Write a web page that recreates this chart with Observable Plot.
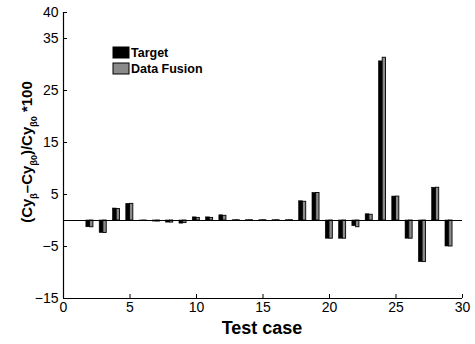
<!DOCTYPE html>
<html>
<head>
<meta charset="utf-8">
<script src="https://cdn.jsdelivr.net/npm/d3@7"></script>
<script src="https://cdn.jsdelivr.net/npm/@observablehq/plot@0.6"></script>
<style>
  html, body { margin: 0; padding: 0; background: #fff; }
  #chart { width: 475px; height: 344px; }
  svg { font-family: "Liberation Sans", Arial, Helvetica, sans-serif; }
</style>
</head>
<body>
<div id="chart"></div>
<script>
const cases  = [2, 3, 4, 5, 6, 7, 8, 9, 10, 11, 12, 13, 14, 15, 16, 17, 18, 19, 20, 21, 22, 23, 24, 25, 26, 27, 28, 29];
const target = [-1.3, -2.4, 2.3, 3.2, -0.1, -0.2, -0.4, -0.6, 0.6, 0.6, 1.0, 0.05, 0.05, 0.05, 0.05, 0.05, 3.7, 5.3, -3.5, -3.5, -1.1, 1.2, 30.6, 4.6, -3.5, -8.0, 6.3, -5.0];
const fusion = [-1.3, -2.4, 2.2, 3.2, -0.1, -0.2, -0.4, -0.5, 0.5, 0.5, 0.9, 0.05, 0.05, 0.05, 0.05, 0.05, 3.6, 5.3, -3.5, -3.5, -1.3, 1.1, 31.3, 4.6, -3.5, -8.0, 6.3, -5.0];
const xTicks = [0, 5, 10, 15, 20, 25, 30];
const yTicks = [40, 35, 25, 15, 5, -5, -15];
const seriesNames = ["Target", "Data Fusion"];
const seriesColors = ["#000000", "#8a8a8a"];

const rows = cases.map((c, i) => ({c, t: target[i], f: fusion[i]}));

const plot = Plot.plot({
  width: 475,
  height: 344,
  marginLeft: 63,
  marginRight: 13,
  marginTop: 12,
  marginBottom: 46,
  style: {fontFamily: '"Liberation Sans", Arial, Helvetica, sans-serif', fontSize: "13px", color: "#000", background: "#fff"},
  x: {domain: [0, 30], ticks: xTicks, label: null},
  y: {domain: [-15, 40], ticks: yTicks, label: null},
  marks: [
    Plot.rectY(rows, {x1: d => d.c - 0.28, x2: d => d.c, y1: 0, y2: "t", fill: seriesColors[0], stroke: "#000", strokeWidth: 0.6}),
    Plot.rectY(rows, {x1: d => d.c, x2: d => d.c + 0.25, y1: 0, y2: "f", fill: seriesColors[1], stroke: "#000", strokeWidth: 0.9}),
    Plot.ruleY([0], {stroke: "#000", strokeWidth: 1.2}),
    Plot.ruleX([0], {stroke: "#000", strokeWidth: 1.2}),
    Plot.ruleY([-15], {stroke: "#000", strokeWidth: 1.2}),
    Plot.axisX({ticks: xTicks, tickSize: -4, tickPadding: 8, fontSize: 14, label: null}),
    Plot.axisY({ticks: yTicks, tickSize: -4, tickPadding: 9, fontSize: 14, label: null})
  ]
});
document.getElementById("chart").appendChild(plot);

const svg = d3.select(plot);
// Y axis title with subscripts
const yt = svg.append("text")
  .attr("transform", "translate(32,152) rotate(-90)")
  .attr("text-anchor", "middle")
  .style("font-weight", "bold")
  .style("font-size", "15px")
  .attr("fill", "#000");
const parts = [["(Cy", false], ["β", true], ["–Cy", false], ["β0", true], [")/Cy", false], ["β0", true], [" *100", false]];
parts.forEach(([s, sub], i) => {
  const ts = yt.append("tspan").text(s);
  if (sub) ts.style("font-size", "9px").attr("dy", 5);
  else ts.attr("dy", i > 0 ? -5 : 0);
});
// X axis title
svg.append("text")
  .attr("x", 262).attr("y", 334)
  .attr("text-anchor", "middle")
  .style("font-weight", "bold")
  .style("font-size", "18px")
  .attr("fill", "#000")
  .text("Test case");
// Legend
const lg = svg.append("g");
seriesNames.forEach((name, i) => {
  lg.append("rect").attr("x", 113).attr("y", 47 + i * 16).attr("width", 16).attr("height", 11)
    .attr("fill", seriesColors[i]).attr("stroke", "#000").attr("stroke-width", 1);
  lg.append("text").attr("x", 131).attr("y", 57 + i * 16)
    .attr("text-anchor", "start")
    .style("font-weight", "bold").style("font-size", "12.5px").attr("fill", "#000").text(name);
});
</script>
</body>
</html>
